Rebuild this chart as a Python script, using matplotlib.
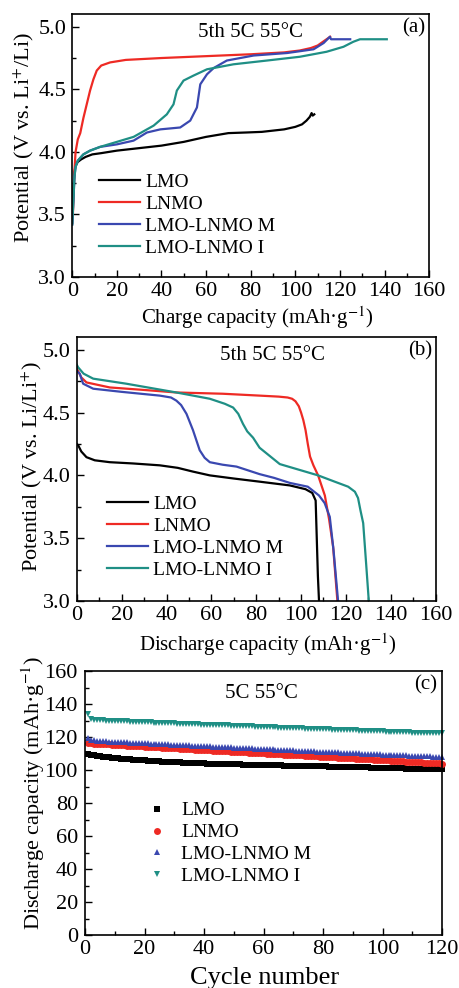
import matplotlib
matplotlib.use('Agg')
import matplotlib.pyplot as plt
from matplotlib.ticker import MultipleLocator, FormatStrFormatter

plt.rcParams['font.family'] = ['Liberation Serif', 'DejaVu Serif']
plt.rcParams['mathtext.fontset'] = 'stix'

# ---------------- data ----------------
series_names = ['LMO', 'LNMO', 'LMO-LNMO M', 'LMO-LNMO I']
colors = ['#000000', '#ee2a24', '#3a48b0', '#1f8f85']

# (a) charge curves
a_lmo_x = [0, 0.5, 1, 1.5, 2.5, 4, 6, 9, 13, 20, 30, 40, 45, 50, 55, 60, 65, 70, 78, 85, 90, 95, 100, 103, 105, 106.5, 107.3, 107.8, 108.5]
a_lmo_y = [3.43, 3.7, 3.84, 3.89, 3.92, 3.94, 3.96, 3.98, 3.99, 4.01, 4.03, 4.05, 4.065, 4.08, 4.10, 4.12, 4.135, 4.15, 4.155, 4.16, 4.17, 4.18, 4.20, 4.22, 4.25, 4.28, 4.31, 4.29, 4.30]
a_lnmo_x = [0.3, 1, 1.5, 2.5, 3.6, 5, 6.5, 8, 9.5, 11, 13, 17, 24, 40, 60, 80, 95, 102, 107, 110, 112, 114, 115.6]
a_lnmo_y = [3.5, 3.85, 4.0, 4.1, 4.15, 4.27, 4.38, 4.49, 4.58, 4.65, 4.69, 4.715, 4.735, 4.75, 4.765, 4.78, 4.795, 4.81, 4.83, 4.85, 4.875, 4.90, 4.92]
a_m_x = [0, 0.5, 1, 1.5, 2.5, 5, 8, 12.5, 20, 27.5, 33.5, 39.5, 48.4, 52.9, 55.9, 57.4, 60.4, 63.4, 69.3, 81.3, 96.3, 108.2, 112.7, 115.5, 116, 124.6]
a_m_y = [3.42, 3.6, 3.8, 3.88, 3.93, 3.98, 4.01, 4.04, 4.06, 4.09, 4.155, 4.18, 4.195, 4.25, 4.355, 4.54, 4.62, 4.67, 4.73, 4.77, 4.79, 4.82, 4.87, 4.92, 4.90, 4.90]
a_i_x = [0, 0.5, 1, 1.5, 2.5, 5, 8, 12.5, 20, 27.5, 36.5, 42.4, 45.4, 46.9, 49.9, 54.4, 60.4, 72.3, 87.3, 102, 114, 121.6, 126, 129, 141]
a_i_y = [3.42, 3.6, 3.8, 3.88, 3.93, 3.98, 4.01, 4.04, 4.08, 4.12, 4.21, 4.30, 4.38, 4.49, 4.57, 4.61, 4.66, 4.70, 4.73, 4.76, 4.80, 4.84, 4.88, 4.90, 4.90]

# (b) discharge curves
b_lmo_x = [0, 0.6, 2, 4.3, 8, 14.7, 25, 37, 45, 51.8, 59.3, 70, 81.5, 95, 102, 105, 106.5, 107, 107.5, 108]
b_lmo_y = [4.25, 4.24, 4.19, 4.145, 4.12, 4.105, 4.095, 4.08, 4.06, 4.03, 4.0, 3.975, 3.95, 3.92, 3.89, 3.86, 3.80, 3.5, 3.2, 3.0]
b_lnmo_x = [0, 0.6, 2, 4.3, 14.7, 30, 44.4, 65, 81.5, 90, 94, 96, 97.5, 99, 100, 101, 102, 103, 104, 105.5, 107.6, 110.6, 112.5, 114.3, 116.2]
b_lnmo_y = [4.85, 4.83, 4.78, 4.74, 4.70, 4.68, 4.66, 4.65, 4.635, 4.627, 4.62, 4.61, 4.59, 4.55, 4.50, 4.44, 4.36, 4.25, 4.15, 4.08, 4.0, 3.84, 3.65, 3.43, 3.0]
b_m_x = [0, 1.3, 2.8, 7.3, 20, 37, 42, 44.4, 46.5, 48.9, 51.8, 54.8, 57, 59.3, 65, 71.2, 81.5, 88, 95, 103, 108, 110.5, 112.8, 114.5, 116.5]
b_m_y = [4.83, 4.81, 4.73, 4.69, 4.665, 4.635, 4.62, 4.595, 4.56, 4.49, 4.36, 4.2, 4.14, 4.105, 4.085, 4.07, 4.01, 3.98, 3.94, 3.91, 3.84, 3.78, 3.67, 3.4, 3.0]
b_i_x = [0, 0.6, 3, 7.3, 22, 44.4, 59.3, 66, 69.7, 72, 74.1, 76, 78.6, 81.5, 90.5, 100, 107.6, 115, 121, 124, 125.4, 126.5, 127.7, 129, 130.2]
b_i_y = [4.88, 4.86, 4.81, 4.77, 4.73, 4.66, 4.61, 4.57, 4.54, 4.49, 4.41, 4.35, 4.30, 4.22, 4.09, 4.04, 4.0, 3.95, 3.91, 3.87, 3.82, 3.72, 3.62, 3.3, 3.0]

# (c) cycling
cycles = list(range(1, 121))
c_lmo = [109.7, 109.2, 108.9, 108.7, 108.4, 108.2, 108.0, 107.8, 107.6, 107.4,
         107.2, 107.0, 106.9, 106.7, 106.6, 106.4, 106.3, 106.1, 106.0, 105.9,
         105.8, 105.6, 105.5, 105.4, 105.3, 105.2, 105.1, 105.0, 104.9, 104.8,
         104.7, 104.7, 104.6, 104.5, 104.4, 104.4, 104.3, 104.2, 104.2, 104.1,
         104.0, 104.0, 103.9, 103.9, 103.8, 103.8, 103.7, 103.7, 103.6, 103.6,
         103.5, 103.5, 103.4, 103.4, 103.3, 103.3, 103.2, 103.2, 103.2, 103.1,
         103.1, 103.0, 103.0, 102.9, 102.9, 102.9, 102.8, 102.8, 102.7, 102.7,
         102.7, 102.6, 102.6, 102.5, 102.5, 102.5, 102.4, 102.4, 102.3, 102.3,
         102.3, 102.2, 102.2, 102.1, 102.1, 102.1, 102.0, 102.0, 101.9, 101.9,
         101.9, 101.8, 101.8, 101.7, 101.7, 101.6, 101.6, 101.5, 101.5, 101.4,
         101.4, 101.3, 101.3, 101.2, 101.2, 101.1, 101.1, 101.0, 101.0, 100.9,
         100.9, 100.9, 100.8, 100.8, 100.7, 100.7, 100.7, 100.6, 100.6, 100.6]
c_lnmo = [116.4, 116.2, 116.1, 116.0, 115.9, 115.8, 115.7, 115.6, 115.5, 115.4,
          115.3, 115.2, 115.1, 114.9, 114.8, 114.7, 114.6, 114.5, 114.4, 114.3,
          114.2, 114.1, 114.0, 113.9, 113.8, 113.7, 113.6, 113.5, 113.4, 113.3,
          113.2, 113.1, 112.9, 112.8, 112.7, 112.6, 112.5, 112.4, 112.3, 112.2,
          112.1, 112.0, 111.9, 111.8, 111.7, 111.6, 111.5, 111.4, 111.3, 111.2,
          111.1, 111.0, 110.9, 110.8, 110.7, 110.6, 110.5, 110.4, 110.3, 110.2,
          110.1, 110.0, 109.9, 109.8, 109.7, 109.6, 109.5, 109.4, 109.3, 109.2,
          109.1, 109.0, 108.9, 108.8, 108.7, 108.5, 108.4, 108.3, 108.2, 108.1,
          108.0, 107.9, 107.8, 107.7, 107.6, 107.5, 107.4, 107.3, 107.2, 107.1,
          107.0, 106.9, 106.8, 106.7, 106.6, 106.5, 106.4, 106.3, 106.2, 106.1,
          106.0, 105.9, 105.8, 105.7, 105.5, 105.4, 105.3, 105.2, 105.1, 105.0,
          104.9, 104.8, 104.7, 104.6, 104.5, 104.4, 104.3, 104.2, 104.1, 104.0]
c_m = [119.6, 118.4, 118.1, 117.9, 117.7, 117.6, 117.5, 117.3, 117.2, 117.1,
       117.0, 116.9, 116.8, 116.8, 116.7, 116.6, 116.5, 116.4, 116.3, 116.2,
       116.2, 116.1, 116.0, 115.9, 115.8, 115.7, 115.6, 115.6, 115.5, 115.4,
       115.3, 115.2, 115.1, 115.1, 115.0, 114.9, 114.8, 114.7, 114.6, 114.5,
       114.5, 114.4, 114.3, 114.2, 114.1, 114.0, 114.0, 113.9, 113.8, 113.7,
       113.6, 113.5, 113.4, 113.4, 113.3, 113.2, 113.1, 113.0, 112.9, 112.9,
       112.8, 112.7, 112.6, 112.5, 112.4, 112.4, 112.3, 112.2, 112.1, 112.0,
       111.9, 111.8, 111.8, 111.7, 111.6, 111.5, 111.4, 111.3, 111.3, 111.2,
       111.1, 111.0, 110.9, 110.8, 110.8, 110.7, 110.6, 110.5, 110.4, 110.4,
       110.3, 110.2, 110.1, 110.0, 109.9, 109.9, 109.8, 109.7, 109.6, 109.5,
       109.5, 109.4, 109.3, 109.2, 109.1, 109.0, 109.0, 108.9, 108.8, 108.7,
       108.6, 108.6, 108.5, 108.4, 108.3, 108.3, 108.2, 108.1, 108.0, 108.0]
c_i = [133.8, 131.0, 130.6, 130.4, 130.3, 130.2, 130.1, 130.0, 130.0, 129.9,
       129.8, 129.8, 129.7, 129.6, 129.5, 129.5, 129.4, 129.3, 129.2, 129.2,
       129.1, 129.0, 128.9, 128.9, 128.8, 128.7, 128.6, 128.6, 128.5, 128.4,
       128.3, 128.3, 128.2, 128.1, 128.0, 128.0, 127.9, 127.8, 127.7, 127.7,
       127.6, 127.5, 127.4, 127.4, 127.3, 127.2, 127.1, 127.1, 127.0, 126.9,
       126.8, 126.8, 126.7, 126.6, 126.5, 126.5, 126.4, 126.3, 126.2, 126.2,
       126.1, 126.0, 125.9, 125.9, 125.8, 125.7, 125.7, 125.6, 125.5, 125.5,
       125.4, 125.3, 125.3, 125.2, 125.1, 125.1, 125.0, 124.9, 124.9, 124.8,
       124.7, 124.7, 124.6, 124.5, 124.5, 124.4, 124.3, 124.3, 124.2, 124.1,
       124.1, 124.0, 123.9, 123.9, 123.8, 123.7, 123.7, 123.6, 123.5, 123.5,
       123.4, 123.3, 123.3, 123.2, 123.1, 123.1, 123.0, 122.9, 122.9, 122.8,
       122.8, 122.7, 122.7, 122.6, 122.6, 122.5, 122.5, 122.4, 122.4, 122.4]

# ---------------- figure ----------------
fig = plt.figure(figsize=(4.6, 9.88), dpi=100)
ax_a = fig.add_axes([0.157, 0.7196, 0.776, 0.266])
ax_b = fig.add_axes([0.167, 0.3917, 0.780, 0.267])
ax_c = fig.add_axes([0.185, 0.0536, 0.776, 0.267])

TICK_FS = 16
XLABEL_FS = 15
YLABEL_FS = 16
LEG_FS = 14
ANN_FS = 15


def style(ax, xmaj, xmin, ymaj, ymin, ypad):
    ax.xaxis.set_major_locator(MultipleLocator(xmaj))
    ax.xaxis.set_minor_locator(MultipleLocator(xmin))
    ax.yaxis.set_major_locator(MultipleLocator(ymaj))
    ax.yaxis.set_minor_locator(MultipleLocator(ymin))
    ax.tick_params(which='both', direction='in', top=False, right=False, width=1.0,
                   labelsize=TICK_FS)
    ax.tick_params(which='major', length=5)
    ax.tick_params(which='minor', length=3)
    ax.tick_params(axis='x', pad=3.3)
    ax.tick_params(axis='y', pad=ypad)
    for s in ax.spines.values():
        s.set_linewidth(1.2)


def legend_lines(ax, anchor):
    ax.legend(loc='upper left', bbox_to_anchor=anchor, frameon=False, borderpad=0,
              borderaxespad=0, handlelength=2.1, handletextpad=0.27, labelspacing=0.22,
              fontsize=LEG_FS)


lw = 1.6
# (a)
for xs, ys, c, n in [(a_lmo_x, a_lmo_y, colors[0], series_names[0]),
                     (a_lnmo_x, a_lnmo_y, colors[1], series_names[1]),
                     (a_m_x, a_m_y, colors[2], series_names[2]),
                     (a_i_x, a_i_y, colors[3], series_names[3])]:
    ax_a.plot(xs, ys, color=c, lw=lw, label=n)
ax_a.set_xlim(0, 160)
ax_a.set_ylim(3.0, 5.1)
style(ax_a, 20, 10, 0.5, 0.25, 4.4)
ax_a.yaxis.set_major_formatter(FormatStrFormatter('%.1f'))
ax_a.set_xlabel('Charge capacity (mAh·g$^{-1}$)', fontsize=XLABEL_FS)
ax_a.set_ylabel('Potential (V vs. Li$^{+}$/Li)', fontsize=YLABEL_FS)
ax_a.xaxis.set_label_coords(0.518, -0.156)
ax_a.xaxis.label.set_va('center')
ax_a.yaxis.set_label_coords(-0.137, 0.53)
ax_a.yaxis.label.set_va('center')
ax_a.text(0.50, 0.93, '5th 5C 55°C', transform=ax_a.transAxes, ha='center', va='center', fontsize=ANN_FS)
ax_a.text(0.99, 0.985, '(a)', transform=ax_a.transAxes, ha='right', va='top', fontsize=ANN_FS)
legend_lines(ax_a, (0.076, 0.395))

# (b)
for xs, ys, c, n in [(b_lmo_x, b_lmo_y, colors[0], series_names[0]),
                     (b_lnmo_x, b_lnmo_y, colors[1], series_names[1]),
                     (b_m_x, b_m_y, colors[2], series_names[2]),
                     (b_i_x, b_i_y, colors[3], series_names[3])]:
    ax_b.plot(xs, ys, color=c, lw=lw, label=n)
ax_b.set_xlim(0, 160)
ax_b.set_ylim(3.0, 5.1)
style(ax_b, 20, 10, 0.5, 0.25, 4.6)
ax_b.yaxis.set_major_formatter(FormatStrFormatter('%.1f'))
ax_b.set_xlabel('Discharge capacity (mAh·g$^{-1}$)', fontsize=XLABEL_FS)
ax_b.set_ylabel('Potential (V vs. Li/Li$^{+}$)', fontsize=YLABEL_FS)
ax_b.xaxis.set_label_coords(0.532, -0.167)
ax_b.xaxis.label.set_va('center')
ax_b.yaxis.set_label_coords(-0.125, 0.51)
ax_b.yaxis.label.set_va('center')
ax_b.text(0.546, 0.93, '5th 5C 55°C', transform=ax_b.transAxes, ha='center', va='center', fontsize=ANN_FS)
ax_b.text(0.99, 0.985, '(b)', transform=ax_b.transAxes, ha='right', va='top', fontsize=ANN_FS)
legend_lines(ax_b, (0.084, 0.40))

# (c)
markers = ['s', 'o', '^', 'v']
for ys, c, m, n in [(c_lmo, colors[0], markers[0], series_names[0]),
                    (c_lnmo, colors[1], markers[1], series_names[1]),
                    (c_m, colors[2], markers[2], series_names[2]),
                    (c_i, colors[3], markers[3], series_names[3])]:
    ax_c.plot(cycles, ys, linestyle='none', marker=m, color=c, markersize=5,
              markeredgewidth=0, label=n, clip_on=False)
ax_c.set_xlim(0, 120)
ax_c.set_ylim(0, 160)
style(ax_c, 20, 10, 20, 10, 5.2)
ax_c.set_xlabel('Cycle number', fontsize=19)
ax_c.set_ylabel('Discharge capacity (mAh·g$^{-1}$)', fontsize=YLABEL_FS)
ax_c.xaxis.set_label_coords(0.504, -0.163)
ax_c.xaxis.label.set_va('center')
ax_c.yaxis.set_label_coords(-0.146, 0.54)
ax_c.yaxis.label.set_va('center')
ax_c.text(0.495, 0.917, '5C 55°C', transform=ax_c.transAxes, ha='center', va='center', fontsize=ANN_FS)
ax_c.text(0.985, 0.985, '(c)', transform=ax_c.transAxes, ha='right', va='top', fontsize=ANN_FS)
ax_c.legend(loc='upper left', bbox_to_anchor=(0.174, 0.505), frameon=False, borderpad=0,
            borderaxespad=0, handlelength=1.0, handletextpad=0.75, labelspacing=0.22,
            fontsize=LEG_FS, numpoints=1, markerscale=1.0)

fig.savefig('out.png', dpi=100)
